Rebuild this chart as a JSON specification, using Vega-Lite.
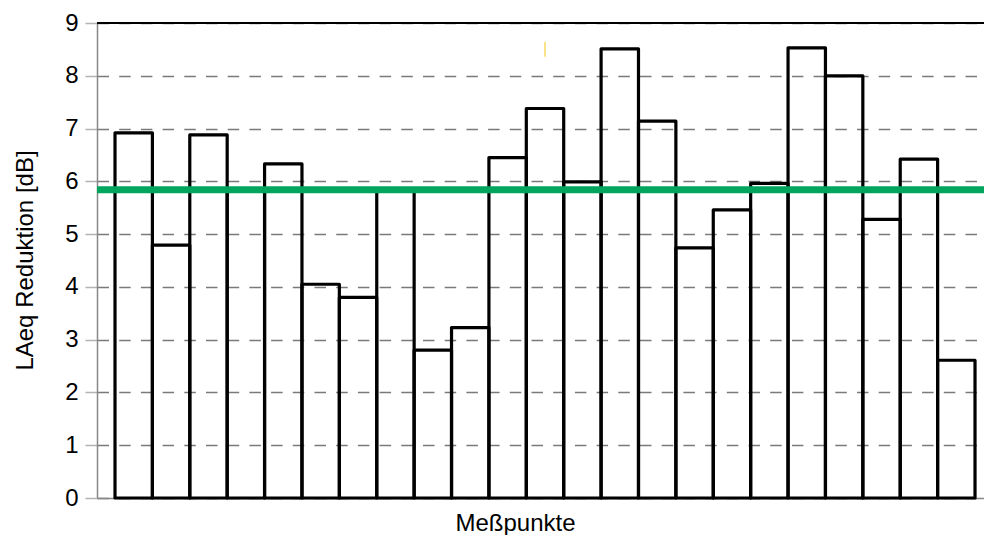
{
  "$schema": "https://vega.github.io/schema/vega-lite/v6.json",
  "autosize": {"type": "none"},
  "width": 887,
  "height": 475,
  "padding": {"left": 97, "top": 23, "right": 0, "bottom": 37},
  "background": "white",
  "config": {"view": {"stroke": null}, "font": "Liberation Sans"},
  "datasets": {
    "punkte": [
      {"punkt": 1, "reduktion": 6.92},
      {"punkt": 2, "reduktion": 4.79},
      {"punkt": 3, "reduktion": 6.88},
      {"punkt": 4, "reduktion": 5.85},
      {"punkt": 5, "reduktion": 6.33},
      {"punkt": 6, "reduktion": 4.05},
      {"punkt": 7, "reduktion": 3.8},
      {"punkt": 8, "reduktion": 5.85},
      {"punkt": 9, "reduktion": 2.8},
      {"punkt": 10, "reduktion": 3.23},
      {"punkt": 11, "reduktion": 6.45},
      {"punkt": 12, "reduktion": 7.38},
      {"punkt": 13, "reduktion": 5.99},
      {"punkt": 14, "reduktion": 8.51},
      {"punkt": 15, "reduktion": 7.14},
      {"punkt": 16, "reduktion": 4.74},
      {"punkt": 17, "reduktion": 5.46},
      {"punkt": 18, "reduktion": 5.96},
      {"punkt": 19, "reduktion": 8.53},
      {"punkt": 20, "reduktion": 8.0},
      {"punkt": 21, "reduktion": 5.28},
      {"punkt": 22, "reduktion": 6.42},
      {"punkt": 23, "reduktion": 2.61}
    ],
    "mittel": [{"wert": 5.84}],
    "rahmen": [{"wert": 9}],
    "markierung": [{"punkt": 12, "von": 8.36, "bis": 8.64}]
  },
  "layer": [
    {
      "data": {"name": "punkte"},
      "mark": {"type": "bar", "fill": "white", "fillOpacity": 0, "stroke": "black", "strokeWidth": 3.2, "strokeJoin": "round"},
      "encoding": {
        "x": {
          "field": "punkt", "type": "ordinal",
          "scale": {"paddingInner": 0, "paddingOuter": 0.361, "align": 0.667},
          "axis": {
            "title": "Meßpunkte", "labels": false, "ticks": false, "grid": false,
            "domain": true, "domainColor": "#888888", "domainWidth": 1.5,
            "titleFont": "Liberation Sans", "titleFontSize": 24, "titleFontWeight": "normal", "titleColor": "black",
            "titleX": 418, "titleY": 32, "titleBaseline": "alphabetic", "titleAlign": "center", "titleAnchor": null
          }
        },
        "y": {
          "field": "reduktion", "type": "quantitative",
          "scale": {"domain": [0, 9], "nice": false, "zero": true},
          "axis": {
            "title": "LAeq Reduktion [dB]", "values": [0, 1, 2, 3, 4, 5, 6, 7, 8, 9],
            "grid": true, "gridDash": [11.5, 10.2], "gridColor": "#7a7a7a", "gridWidth": 1.6,
            "domainColor": "#888888", "domainWidth": 1.5,
            "tickColor": "#b3b3b3", "tickSize": 12, "tickWidth": 1.5,
            "labelFont": "Liberation Sans", "labelFontSize": 24, "labelColor": "black", "labelPadding": 7, "labelFlush": false,
            "titleFont": "Liberation Sans", "titleFontSize": 24, "titleFontWeight": "normal", "titleColor": "black",
            "titleX": -65, "titleY": 237, "titleBaseline": "alphabetic", "titleAngle": 270, "titleAlign": "center", "titleAnchor": null
          }
        }
      }
    },
    {
      "data": {"name": "rahmen"},
      "mark": {"type": "rule", "color": "black", "strokeWidth": 2},
      "encoding": {"y": {"field": "wert", "type": "quantitative"}}
    },
    {
      "data": {"name": "mittel"},
      "mark": {"type": "rule", "color": "#00A65E", "strokeWidth": 7},
      "encoding": {"y": {"field": "wert", "type": "quantitative"}}
    },
    {
      "data": {"name": "markierung"},
      "mark": {"type": "rule", "color": "#F5C518", "strokeWidth": 1},
      "encoding": {
        "x": {"field": "punkt", "type": "ordinal"},
        "y": {"field": "von", "type": "quantitative"},
        "y2": {"field": "bis"}
      }
    }
  ]
}
